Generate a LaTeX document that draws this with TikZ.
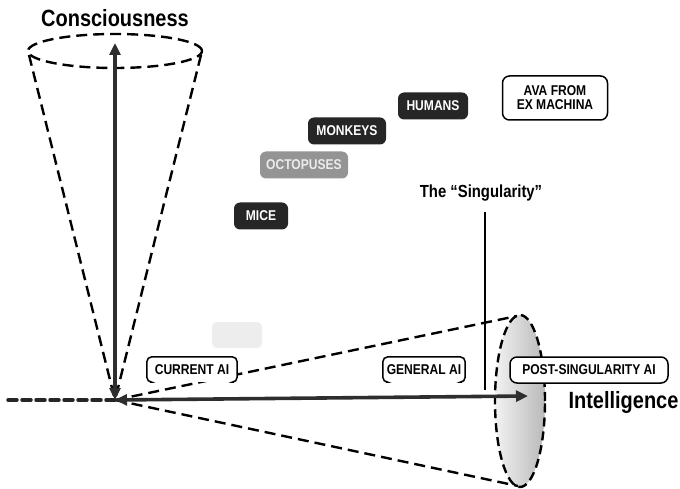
\documentclass[tikz,border=0pt]{standalone}
\usepackage{fontspec}
\setmainfont{Liberation Sans}[FakeStretch=0.85]
\usetikzlibrary{arrows.meta,calc}
\begin{document}
\begin{tikzpicture}[x=1pt,y=-1pt,
  lbl/.style={font=\bfseries\fontsize{14.2}{16}\selectfont},
  dk/.style={lbl, rounded corners=6pt, fill=black!85, text=white, minimum height=27pt, inner sep=0pt},
  octo/.style={dk, fill=black!42, text=white!92!black},
  wb/.style={lbl, rounded corners=7pt, draw, line width=1.5pt, fill=white, inner sep=0pt, align=center},
  brkbox/.style={lbl, fill=white, inner sep=0pt, minimum height=25pt},
  brk/.style={line width=1.5pt, rounded corners=5pt},
  cone/.style={dash pattern=on 11pt off 6pt, line width=2.4pt},
  axisarrow/.style={line width=3.6pt, black!82, {Triangle[length=12pt,width=11pt]}-{Triangle[length=12pt,width=11pt]}},
  big/.style={font=\bfseries\fontsize{23.5}{26}\selectfont}
]
\useasboundingbox (0,0) rectangle (680,489);

% coordinates
\coordinate (O) at (115,400);
\coordinate (ytop) at (115,43);
\coordinate (xend) at (528,396);
\coordinate (xl) at (8,400);
\coordinate (tl) at (29,55);
\coordinate (tr) at (201,55);
\coordinate (rt) at (517,316);
\coordinate (rb) at (518,486);
\coordinate (st) at (485,212);
\coordinate (sb) at (485,390);

% right ellipse
\shade[left color=gray!10, right color=gray!55] (520,401) ellipse [x radius=25pt, y radius=86pt];
\draw[cone, dash pattern=on 9pt off 5pt] (520,401) ellipse [x radius=25pt, y radius=86pt];

% top ellipse
\draw[cone] (115,51) ellipse [x radius=87pt, y radius=17pt];

% cones
\draw[cone] (tl) -- (O);
\draw[cone] (tr) -- (O);
\draw[cone] (O) -- (rt);
\draw[cone] (O) -- (rb);

% singularity
\node[font=\bfseries\fontsize{17.5}{20}\selectfont] (sing) at (481,193) {The “Singularity”};
\draw[line width=1.3pt] (st) -- (sb);

% animal boxes
\node[dk, minimum width=70pt] (humans) at (433,106) {HUMANS};
\node[dk, minimum width=78pt] (monkeys) at (347,131) {MONKEYS};
\node[octo, minimum width=88pt] (octopuses) at (304,165) {OCTOPUSES};
\node[dk, minimum width=54pt] (mice) at (261,216) {MICE};
\node[wb, minimum width=105pt, minimum height=44pt] (ava) at (555,98) {AVA FROM\\[-2pt]EX MACHINA};
\node[fill=black!7, rounded corners=5pt, minimum width=50pt, minimum height=26pt, inner sep=0pt] (faint) at (237,335) {};

% AI boxes
\node[brkbox, minimum width=90pt] (cur) at (192,369.5) {CURRENT AI};
\draw[brk] ([xshift=3pt]cur.south west) -- (cur.south west) -- (cur.north west) -- (cur.north east) -- (cur.south east) -- ([xshift=-3pt]cur.south east);
\node[brkbox, minimum width=82pt] (gen) at (424,369.5) {GENERAL AI};
\draw[brk] ([xshift=3pt]gen.south west) -- (gen.south west) -- (gen.north west) -- (gen.north east) -- (gen.south east) -- ([xshift=-3pt]gen.south east);

% axes
\draw[dash pattern=on 9pt off 5pt, line width=3.5pt, line cap=round, black!85] (xl) -- (O);
\draw[axisarrow] (O) -- (ytop);
\draw[axisarrow] (O) -- (xend);

\node[wb, minimum width=158pt, minimum height=26pt] (post) at (589,370) {POST-SINGULARITY AI};

% axis labels
\node[big] (cons) at (115,18) {Consciousness};
\node[big, anchor=base west] (intel) at (565,408) {Intelligence};
\end{tikzpicture}
\end{document}
